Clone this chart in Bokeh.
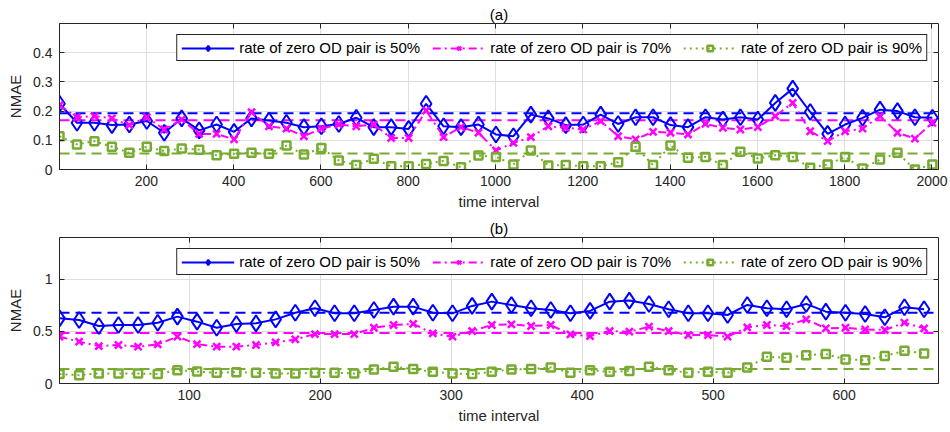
from bokeh.plotting import figure
from bokeh.models import LinearAxis, FixedTicker, Span, Legend, LegendItem, Range1d
from bokeh.layouts import column
from bokeh.embed import file_html
from bokeh.resources import INLINE

# ---------------- data: panel (a) ----------------
a_x = [1 + 40 * i for i in range(51)]
a_50 = [0.225, 0.160, 0.160, 0.152, 0.154, 0.166, 0.126, 0.175, 0.134, 0.154,
        0.129, 0.175, 0.168, 0.160, 0.145, 0.148, 0.156, 0.177, 0.145, 0.145,
        0.139, 0.225, 0.148, 0.145, 0.154, 0.120, 0.114, 0.188, 0.175, 0.152,
        0.154, 0.188, 0.156, 0.179, 0.179, 0.152, 0.145, 0.179, 0.171, 0.179,
        0.171, 0.228, 0.277, 0.197, 0.122, 0.154, 0.177, 0.205, 0.200, 0.179,
        0.177]
a_70 = [0.220, 0.179, 0.183, 0.175, 0.152, 0.179, 0.137, 0.171, 0.122, 0.122,
        0.103, 0.196, 0.148, 0.140, 0.114, 0.140, 0.154, 0.148, 0.154, 0.108,
        0.108, 0.202, 0.111, 0.145, 0.126, 0.065, 0.091, 0.111, 0.148, 0.143,
        0.137, 0.166, 0.114, 0.103, 0.129, 0.126, 0.120, 0.156, 0.143, 0.137,
        0.145, 0.183, 0.228, 0.131, 0.097, 0.131, 0.140, 0.183, 0.126, 0.106,
        0.160]
a_90 = [0.114, 0.086, 0.097, 0.078, 0.057, 0.078, 0.063, 0.072, 0.068, 0.049,
        0.054, 0.057, 0.054, 0.082, 0.051, 0.074, 0.031, 0.015, 0.037, 0.011,
        0.011, 0.019, 0.029, 0.008, 0.048, 0.043, 0.017, 0.065, 0.014, 0.015,
        0.011, 0.011, 0.025, 0.078, 0.015, 0.082, 0.040, 0.043, 0.015, 0.061,
        0.038, 0.049, 0.043, 0.006, 0.017, 0.043, 0.003, 0.034, 0.057, 0.000,
        0.017]
a_means = [0.193, 0.169, 0.055]
a_xticks = [200, 400, 600, 800, 1000, 1200, 1400, 1600, 1800, 2000]
a_yticks = [0, 0.1, 0.2, 0.3, 0.4]
a_ylabels = ["0", "0.1", "0.2", "0.3", "0.4"]

# ---------------- data: panel (b) ----------------
b_x = [1 + 15 * i for i in range(45)]
b_50 = [0.625, 0.609, 0.551, 0.561, 0.561, 0.583, 0.641, 0.593, 0.535, 0.571,
        0.577, 0.615, 0.679, 0.721, 0.673, 0.673, 0.705, 0.737, 0.737, 0.679,
        0.673, 0.744, 0.785, 0.753, 0.721, 0.705, 0.673, 0.696, 0.785, 0.795,
        0.763, 0.712, 0.673, 0.673, 0.657, 0.753, 0.721, 0.712, 0.763, 0.689,
        0.679, 0.667, 0.635, 0.731, 0.712]
b_70 = [0.449, 0.401, 0.359, 0.369, 0.353, 0.375, 0.449, 0.378, 0.353, 0.353,
        0.369, 0.394, 0.423, 0.474, 0.474, 0.474, 0.535, 0.561, 0.571, 0.481,
        0.449, 0.503, 0.561, 0.567, 0.551, 0.561, 0.471, 0.455, 0.503, 0.497,
        0.545, 0.503, 0.465, 0.465, 0.449, 0.538, 0.561, 0.551, 0.615, 0.529,
        0.535, 0.519, 0.513, 0.583, 0.529]
b_90 = [0.090, 0.080, 0.096, 0.096, 0.096, 0.090, 0.128, 0.115, 0.103, 0.109,
        0.103, 0.096, 0.096, 0.103, 0.103, 0.096, 0.135, 0.160, 0.138, 0.112,
        0.096, 0.090, 0.112, 0.135, 0.138, 0.154, 0.103, 0.128, 0.112, 0.119,
        0.160, 0.128, 0.103, 0.112, 0.103, 0.154, 0.256, 0.247, 0.272, 0.282,
        0.231, 0.224, 0.263, 0.314, 0.288]
b_means = [0.679, 0.484, 0.138]
b_xticks = [100, 200, 300, 400, 500, 600]
b_yticks = [0, 0.5, 1]
b_ylabels = ["0", "0.5", "1"]

labels = ["rate of zero OD pair is 50%", "rate of zero OD pair is 70%",
          "rate of zero OD pair is 90%"]

BLUE = "#0000FF"
MAGENTA = "#FF00FF"
GREEN = "#77AC30"
AXC = "#262626"
FONT = "Liberation Sans"


def make_panel(title, xs, s50, s70, s90, means, xr, yr, xticks, yticks, ylabels, height, top):
    p = figure(width=950, height=height, output_backend="svg", toolbar_location=None,
               x_range=Range1d(*xr), y_range=Range1d(*yr),
               min_border_left=59, min_border_right=12, min_border_top=top,
               min_border_bottom=height - top - 146)
    p.title.text = title
    p.title.align = "center"
    p.title.text_font = FONT
    p.title.text_font_size = "15px"
    p.title.text_font_style = "normal"
    p.title.text_color = "#000000"
    p.title.standoff = 2

    p.outline_line_color = AXC
    p.outline_line_alpha = 1
    p.outline_line_width = 1
    p.background_fill_color = "white"
    p.border_fill_color = "white"

    for ax in (p.xaxis[0], p.yaxis[0]):
        ax.major_label_text_font = FONT
        ax.major_label_text_font_size = "14px"
        ax.major_label_text_color = AXC
        ax.axis_label_text_font = FONT
        ax.axis_label_text_font_size = "15px"
        ax.axis_label_text_font_style = "normal"
        ax.axis_label_text_color = AXC
        ax.axis_line_color = AXC
        ax.major_tick_line_color = AXC
        ax.major_tick_in = 5
        ax.major_tick_out = 0
        ax.minor_tick_line_color = None
    p.xaxis.ticker = FixedTicker(ticks=xticks)
    p.yaxis.ticker = FixedTicker(ticks=yticks)
    p.yaxis.major_label_overrides = {t: l for t, l in zip(yticks, ylabels)}
    p.xaxis.axis_label = "time interval"
    p.yaxis.axis_label = "NMAE"
    p.xaxis.major_label_standoff = 6
    p.yaxis.major_label_standoff = 7
    p.xaxis.axis_label_standoff = 4
    p.yaxis.axis_label_standoff = 6

    # tick marks on top and right (box on), with no labels drawn
    top_ax = LinearAxis(ticker=FixedTicker(ticks=xticks), major_label_text_font_size="1px",
                        major_label_text_color=None,
                        major_tick_in=5, major_tick_out=0, axis_line_color=None,
                        major_tick_line_color=AXC, minor_tick_line_color=None,
                        major_label_standoff=0)
    right_ax = LinearAxis(ticker=FixedTicker(ticks=yticks), major_label_text_font_size="1px",
                          major_label_text_color=None,
                          major_tick_in=5, major_tick_out=0, axis_line_color=None,
                          major_tick_line_color=AXC, minor_tick_line_color=None,
                          major_label_standoff=0)
    p.add_layout(top_ax, "above")
    p.add_layout(right_ax, "right")

    p.xgrid.grid_line_color = "#dedede"
    p.ygrid.grid_line_color = "#dedede"
    p.xgrid.ticker = FixedTicker(ticks=xticks)
    p.ygrid.ticker = FixedTicker(ticks=yticks)

    for m, c in zip(means, (BLUE, MAGENTA, GREEN)):
        p.add_layout(Span(location=m, dimension="width", line_color=c, line_width=2,
                          line_dash="10 6", level="underlay"))

    l1 = p.line(xs, s50, line_color=BLUE, line_width=2)
    m1 = p.scatter(xs, s50, marker="diamond", size=16, line_color=BLUE, line_width=2,
                   fill_color=None)
    l2 = p.line(xs, s70, line_color=MAGENTA, line_width=2, line_dash="8 4 2 4")
    m2 = p.scatter(xs, s70, marker="x", size=10, line_color=MAGENTA, line_width=2.5)
    l3 = p.line(xs, s90, line_color=GREEN, line_width=2, line_dash="2 4")
    m3 = p.scatter(xs, s90, marker="square", size=8, line_color=GREEN, line_width=2.5,
                   fill_color=None)

    legend = Legend(items=[LegendItem(label=labels[0], renderers=[l1, m1]),
                           LegendItem(label=labels[1], renderers=[l2, m2]),
                           LegendItem(label=labels[2], renderers=[l3, m3])],
                    location="top_right", orientation="horizontal",
                    glyph_width=53, glyph_height=14, label_height=14,
                    label_standoff=5, spacing=12, padding=4, margin=11,
                    label_text_font=FONT, label_text_font_size="15px",
                    label_text_color="#000000",
                    border_line_color=AXC, border_line_width=1, border_line_alpha=1,
                    background_fill_color="white", background_fill_alpha=1)
    p.add_layout(legend)
    return p


p1 = make_panel("(a)", a_x, a_50, a_70, a_90, a_means, (1, 2015), (0, 0.5),
                a_xticks, a_yticks, a_ylabels, 214, 23)
p2 = make_panel("(b)", b_x, b_50, b_70, b_90, b_means, (1, 672), (0, 1.4),
                b_xticks, b_yticks, b_ylabels, 218, 23)

layout = column(p1, p2, spacing=0)
open("out.html", "w").write(file_html(layout, INLINE))
